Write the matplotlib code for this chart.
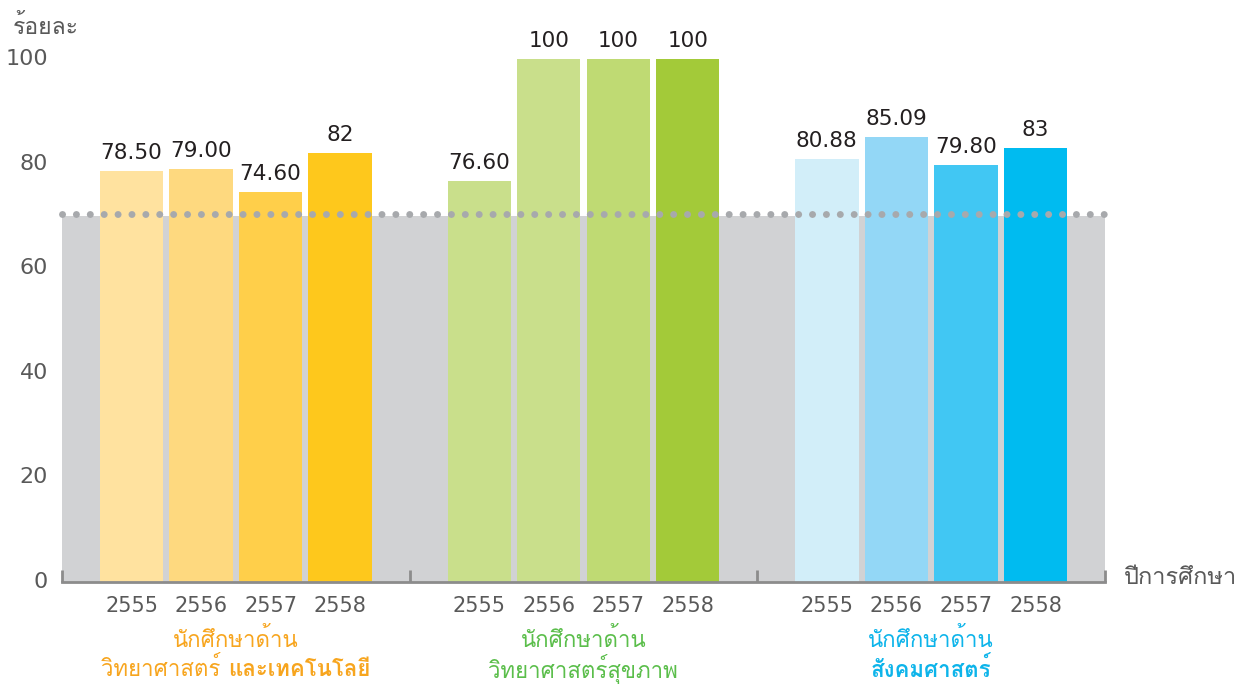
import matplotlib
matplotlib.use("Agg")
import matplotlib.pyplot as plt
from matplotlib import font_manager
from matplotlib.ft2font import FT2Font
from matplotlib.offsetbox import TextArea, HPacker, AnnotationBbox

# data
years = ["2555", "2556", "2557", "2558"]
sci_tech = [78.50, 79.00, 74.60, 82]
health = [76.60, 100, 100, 100]
social = [80.88, 85.09, 79.80, 83]
value_text = [
    ["78.50", "79.00", "74.60", "82"],
    ["76.60", "100", "100", "100"],
    ["80.88", "85.09", "79.80", "83"],
]
target = 70
y_ticks = [0, 20, 40, 60, 80, 100]

group_colors = [
    ["#FFE29F", "#FED97F", "#FFCF4A", "#FEC81C"],
    ["#C9DF8B", "#C9DF8B", "#BFDA73", "#A3CA39"],
    ["#D2EEF9", "#93D7F6", "#41C7F3", "#00BBF0"],
]
label_colors = ["#F7A51E", "#5BBE4B", "#0DB4EA"]
group_labels = [
    [[("นักศึกษาด้าน", "normal")],
     [("วิทยาศาสตร์ ", "normal"), ("และเทคโนโลยี", "bold")]],
    [[("นักศึกษาด้าน", "normal")],
     [("วิทยาศาสตร์สุขภาพ", "normal")]],
    [[("นักศึกษาด้าน", "normal")],
     [("สังคมศาสตร์", "bold")]],
]


def find_thai_font():
    for f in font_manager.fontManager.ttflist:
        try:
            if 0x0E01 in FT2Font(f.fname).get_charmap():
                return f.name
        except Exception:
            pass
    return None


thai = find_thai_font()
families = [thai, "DejaVu Sans"] if thai else ["DejaVu Sans"]
plt.rcParams["font.family"] = families

fig = plt.figure(figsize=(12.52, 6.84), dpi=100)
ax = fig.add_axes([62 / 1252, 1 - 582 / 684, (1105 - 62) / 1252, (582 - 59) / 684])

series = [sci_tech, health, social]
centers = []
for g, vals in enumerate(series):
    for i, v in enumerate(vals):
        x = 5 * g + 1 + i
        centers.append(x)
        ax.bar(x, v, width=0.91, color=group_colors[g][i], zorder=2)
        ax.text(x, v + 2.3, value_text[g][i], ha="center", va="baseline",
                fontsize=15.5, color="#231F20", family="DejaVu Sans")

# grey band up to target and dotted target line
ax.axhspan(0, target, color="#D1D2D4", zorder=1, lw=0)
ax.plot([0, 15], [target + 0.3, target + 0.3], color="#A7A9AC", lw=5,
        dashes=(0.01, 1.99), dash_capstyle="round", zorder=3, clip_on=False)

ax.set_xlim(0, 15)
ax.set_ylim(0, 100)
for s in ["top", "right", "left"]:
    ax.spines[s].set_visible(False)
ax.spines["bottom"].set_color("#8C8C8C")
ax.spines["bottom"].set_linewidth(2)
ax.spines["bottom"].set_zorder(4)

ax.set_xticks([0, 5, 10, 15])
ax.set_xticklabels([])
ax.tick_params(axis="x", which="major", direction="in", length=9, width=2,
               color="#8C8C8C")
ax.set_xticks(centers, minor=True)
ax.set_xticklabels(years * 3, minor=True, family="DejaVu Sans")
ax.tick_params(axis="x", which="minor", length=0, pad=10, labelsize=15,
               labelcolor="#595959")

ax.set_yticks(y_ticks)
ax.set_yticklabels([str(t) for t in y_ticks], family="DejaVu Sans")
ax.tick_params(axis="y", length=0, pad=10, labelsize=16, labelcolor="#595959")
for lab in ax.get_yticklabels():
    lab.set_verticalalignment("center")

fig.text(13 / 1252, 1 - 27 / 684, "ร้อยละ", fontsize=16.5, color="#595959",
         va="center", ha="left")
fig.text(1124 / 1252, 1 - 578 / 684, "ปีการศึกษา", fontsize=17, color="#595959",
         va="center", ha="left")

# group captions under the year labels (offsets in points, 0.72 pt per px)
for g, lines in enumerate(group_labels):
    for row, parts in enumerate(lines):
        areas = [TextArea(t, textprops=dict(fontsize=16, color=label_colors[g],
                                            fontweight=w, family=families))
                 for t, w in parts]
        box = HPacker(children=areas, pad=0, sep=0, align="baseline")
        ab = AnnotationBbox(box, (2.5 + 5 * g, 0), xycoords="data",
                            xybox=(0, -0.72 * (58 + 29 * row)),
                            boxcoords="offset points",
                            box_alignment=(0.5, 0.5), frameon=False,
                            annotation_clip=False)
        ax.add_artist(ab)

fig.savefig("out.png", dpi=100)
